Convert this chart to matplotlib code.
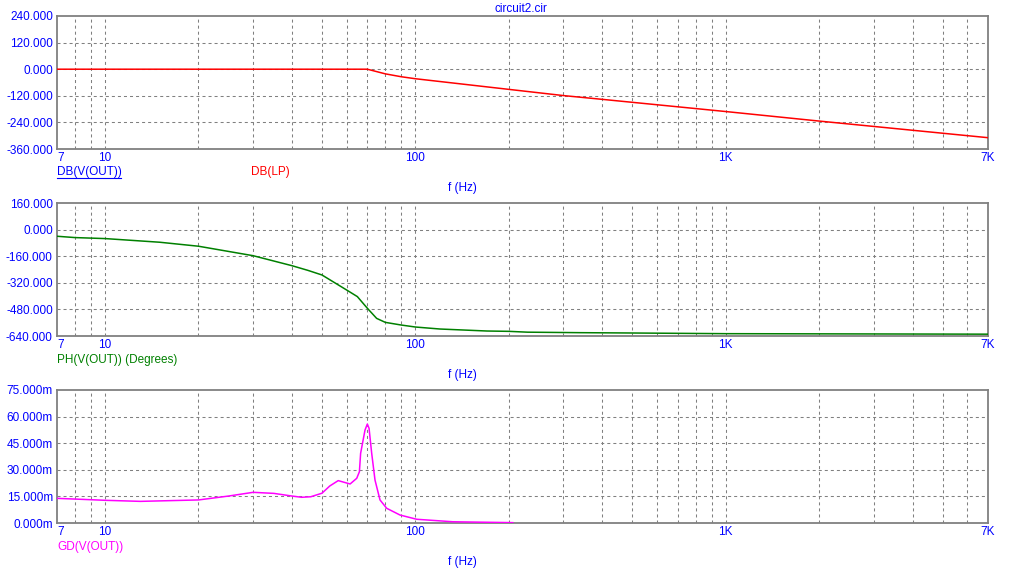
import matplotlib
matplotlib.use('Agg')
import matplotlib.pyplot as plt
from matplotlib.lines import Line2D
from matplotlib.ticker import FixedLocator, NullLocator

W, H = 1020, 576
plt.rcParams['font.family'] = ['Liberation Sans', 'DejaVu Sans']
plt.rcParams['font.size'] = 8.5

BLUE = '#0000ff'
GRID = '#808080'

# DB(LP)
db_f = [7, 20, 50, 70, 80, 90, 100, 200, 300, 400, 1000, 2000, 7000]
db_val = [0, 0, 0, 0, -21, -34, -43, -91, -119, -136, -191, -234, -309]

# PH(V(OUT)) in degrees
ph_f = [7, 8, 10, 15, 20, 30, 40, 45, 50, 60, 65, 70, 75, 80, 90, 100, 120, 170,
        200, 230, 340, 500, 1000, 7000]
ph_val = [-40, -48, -54, -76, -100, -157, -217, -245, -273, -363, -403, -473, -534,
          -558, -574, -586, -598, -610, -612, -617, -620, -622, -626, -629]

# GD(V(OUT)) in seconds
gd_f = [7, 8, 10, 13, 20, 25, 30, 35, 40, 43, 46, 50, 53, 56.4, 61.6, 64.7, 66,
        66.6, 68.8, 70, 70.9, 72.3, 74.1, 76.9, 80.8, 89.2, 101, 132, 206]
gd_ms = [13.9, 13.5, 12.8, 12.2, 13.0, 15.2, 17.3, 16.7, 15.2, 14.5, 14.8, 16.8,
         20.9, 23.9, 22.0, 25.2, 28.9, 39.3, 52.4, 55.8, 53.4, 39.3, 24.2, 13.0,
         8.3, 4.5, 2.1, 0.7, 0.2]
gd_val = [v / 1000 for v in gd_ms]

x_ticks = [7, 10, 100, 1000, 7000]
x_labels = ['7', '10', '100', '1K', '7K']
x_grid = [8, 9, 10, 20, 30, 40, 50, 60, 70, 80, 90, 100, 200, 300, 400, 500, 600,
          700, 800, 900, 1000, 2000, 3000, 4000, 5000, 6000]


def px(x, y):
    return x / W, 1 - y / H


fig = plt.figure(figsize=(W / 100, H / 100), dpi=100)
fig.patch.set_facecolor('white')


def make_axes(top, ylim, yticks, fmt):
    ax = fig.add_axes([57 / W, 1 - (top + 133) / H, 931 / W, 133 / H])
    ax.set_xscale('log')
    ax.set_xlim(7, 7000)
    ax.set_ylim(*ylim)
    ax.xaxis.set_major_locator(FixedLocator(x_ticks))
    ax.xaxis.set_minor_locator(NullLocator())
    ax.set_xticklabels(x_labels)
    ax.set_yticks(yticks)
    ax.set_yticklabels([fmt(v) for v in yticks])
    ax.tick_params(length=0, colors=BLUE, labelsize=8.5, pad=3)
    ax.tick_params(axis='x', pad=2)
    for s in ax.spines.values():
        s.set_color(GRID)
        s.set_linewidth(1.3)
    for g in x_grid:
        ax.axvline(g, color=GRID, lw=0.75, ls=(0, (2.9, 2.9)), zorder=1)
    for v in yticks[1:-1]:
        ax.axhline(v, color=GRID, lw=0.75, ls=(0, (2.9, 2.9)), zorder=1)
    lbls = ax.get_xticklabels()
    lbls[0].set_horizontalalignment('left')
    return ax


ax1 = make_axes(16, (-360, 240), [-360, -240, -120, 0, 120, 240], lambda v: '%.3f' % v)
ax1.plot(db_f, db_val, color='#ff0000', lw=1.1, zorder=3)

ax2 = make_axes(203, (-640, 160), [-640, -480, -320, -160, 0, 160], lambda v: '%.3f' % v)
ax2.plot(ph_f, ph_val, color='#008000', lw=1.1, zorder=3)

ax3 = make_axes(390, (0, 0.075), [0, 0.015, 0.03, 0.045, 0.06, 0.075],
                lambda v: '%.3fm' % (v * 1000))
ax3.plot(gd_f, gd_val, color='#ff00ff', lw=1.1, zorder=3)

# titles and labels
fig.text(*px(521, 9), 'circuit2.cir', color=BLUE, ha='center', va='center', fontsize=8.5)
for y in (188, 375, 562):
    fig.text(*px(462, y), 'f (Hz)', color=BLUE, ha='center', va='center', fontsize=8.5)

fig.text(*px(57, 172), 'DB(V(OUT))', color=BLUE, ha='left', va='center', fontsize=8.5)
fig.add_artist(Line2D([57 / W, 121 / W], [1 - 178 / H, 1 - 178 / H], color=BLUE, lw=0.8))
fig.text(*px(251, 172), 'DB(LP)', color='#ff0000', ha='left', va='center', fontsize=8.5)
fig.text(*px(57, 360), 'PH(V(OUT)) (Degrees)', color='#008000', ha='left', va='center',
         fontsize=8.5)
fig.text(*px(57, 547), 'GD(V(OUT))', color='#ff00ff', ha='left', va='center', fontsize=8.5)

fig.savefig('out.png', dpi=100)
